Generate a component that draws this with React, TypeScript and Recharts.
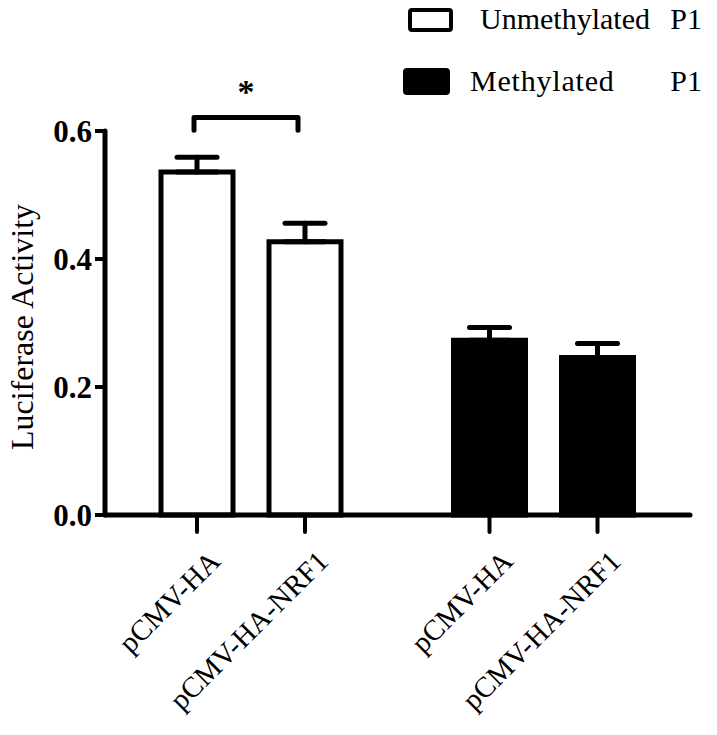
import { BarChart, Bar, XAxis, YAxis, ErrorBar, Cell, LabelList } from "recharts";

const FONT = '"Liberation Serif", "Times New Roman", serif';

// groups along the x axis, and the two constructs inside each group
const groups = ["Unmethylated", "Methylated"];
const groupSuffix = ["P1", "P1"];
const constructs = ["pCMV-HA", "pCMV-HA-NRF1"];
const haValues = [0.536, 0.273];
const nrf1Values = [0.427, 0.246];
const haErrors = [0.023, 0.02];
const nrf1Errors = [0.029, 0.022];
const groupFills = ["#ffffff", "#000000"];
const yTicks = [0, 0.2, 0.4, 0.6];

// significance bracket between the two unmethylated bars
const sigLevel = 0.621;
const sigLegLevel = 0.601;
const sigStarLevel = 0.665;

const BAR_SIZE = 72;
const BAR_GAP = 36;

const data = groups.map((g, i) => ({
  group: g,
  ha: haValues[i],
  nrf1: nrf1Values[i],
  haErr: [0, haErrors[i]],
  nrf1Err: [0, nrf1Errors[i]],
}));

// tick mark + rotated category label under each bar
const makeBarTick = (label: string) => (props: any) => {
  const { x, y, width, height } = props;
  const cx = x + width / 2;
  const bottom = y + height;
  const lx = cx + 25;
  const ly = bottom + 48;
  return (
    <g>
      <line x1={cx} y1={bottom} x2={cx} y2={bottom + 17} stroke="#000" strokeWidth={4} strokeLinecap="round" />
      <text
        x={lx}
        y={ly}
        transform={`rotate(-45, ${lx}, ${ly})`}
        textAnchor="end"
        fontFamily={FONT}
        fontSize={29}
        fill="#000"
      >
        {label}
      </text>
    </g>
  );
};

const renderSignificance = (props: any) => {
  const { x, y, width, height, value, index } = props;
  if (index !== 0) return null;
  const bottom = y + height;
  const pxPerUnit = height / value;
  const x1 = x + width / 2;
  const x2 = x1 + width + BAR_GAP;
  const yTop = bottom - sigLevel * pxPerUnit;
  const yLeg = bottom - sigLegLevel * pxPerUnit;
  const yStar = bottom - sigStarLevel * pxPerUnit;
  return (
    <g>
      <path
        d={`M${x1 - 3},${yLeg} L${x1 - 3},${yTop} L${x2 - 7},${yTop} L${x2 - 7},${yLeg}`}
        fill="none"
        stroke="#000"
        strokeWidth={5}
        strokeLinecap="round"
        strokeLinejoin="round"
      />
      <text
        x={(x1 + x2) / 2 - 5}
        y={yStar + 14}
        textAnchor="middle"
        fontFamily={FONT}
        fontSize={34}
        fontWeight="bold"
        fill="#000"
      >
        *
      </text>
    </g>
  );
};

function LegendBox() {
  return (
    <div style={{ position: "absolute", left: 0, top: 0, width: 717, height: 100, fontFamily: FONT, color: "#000" }}>
      {groups.map((g, i) => {
        const top = i === 0 ? 8 : 68;
        const boxLeft = i === 0 ? 408 : 403;
        const boxW = i === 0 ? 45 : 47;
        const boxH = i === 0 ? 24 : 27;
        return (
          <div key={g}>
            <div
              style={{
                position: "absolute",
                left: boxLeft,
                top,
                width: boxW,
                height: boxH,
                boxSizing: "border-box",
                background: groupFills[i],
                border: "4.5px solid #000",
                borderRadius: 4,
              }}
            />
            <span
              style={{
                position: "absolute",
                left: i === 0 ? 480 : 470,
                top: top + boxH / 2 - 19,
                fontSize: 30,
                lineHeight: "36px",
                letterSpacing: i === 0 ? 0 : 0.8,
                whiteSpace: "pre",
              }}
            >
              {g}
            </span>
            <span
              style={{
                position: "absolute",
                right: 15,
                top: top + boxH / 2 - 19,
                fontSize: 30,
                lineHeight: "36px",
              }}
            >
              {groupSuffix[i]}
            </span>
          </div>
        );
      })}
    </div>
  );
}

const renderYLabel = (props: any) => {
  const { viewBox } = props;
  const cx = 22;
  const cy = viewBox.y + viewBox.height / 2 + 4;
  return (
    <text
      x={cx}
      y={cy}
      transform={`rotate(-90, ${cx}, ${cy})`}
      textAnchor="middle"
      dominantBaseline="central"
      fontFamily={FONT}
      fontSize={32}
      fill="#000"
    >
      Luciferase Activity
    </text>
  );
};

export default function App() {
  return (
    <div style={{ position: "absolute", left: 0, top: 0, width: 717, height: 735, background: "#fff" }}>
      <BarChart
        width={717}
        height={735}
        data={data}
        margin={{ top: 131, right: 27, bottom: 190, left: 0 }}
        barGap={BAR_GAP}
        style={{ overflow: "visible" }}
      >
        <XAxis
          dataKey="group"
          height={30}
          tick={false}
          tickLine={false}
          axisLine={{ stroke: "#000", strokeWidth: 5, strokeLinecap: "round" }}
        />
        <YAxis
          width={105}
          domain={[0, 0.6]}
          ticks={yTicks}
          interval={0}
          tickFormatter={(v: number) => v.toFixed(1)}
          tick={{ fontSize: 31, fontWeight: "bold", fill: "#000", fontFamily: FONT }}
          tickSize={10}
          tickMargin={3}
          tickLine={{ stroke: "#000", strokeWidth: 4 }}
          axisLine={{ stroke: "#000", strokeWidth: 5, strokeLinecap: "round" }}
          label={renderYLabel}
        />
        <Bar dataKey="ha" barSize={BAR_SIZE} stroke="#000" strokeWidth={5} isAnimationActive={false}>
          {data.map((d, i) => (
            <Cell key={d.group} fill={groupFills[i]} />
          ))}
          <ErrorBar dataKey="haErr" width={20} stroke="#000" strokeWidth={5} strokeLinecap="round" />
          <LabelList dataKey="ha" content={makeBarTick(constructs[0])} />
          <LabelList dataKey="ha" content={renderSignificance} />
        </Bar>
        <Bar dataKey="nrf1" barSize={BAR_SIZE} stroke="#000" strokeWidth={5} isAnimationActive={false}>
          {data.map((d, i) => (
            <Cell key={d.group} fill={groupFills[i]} />
          ))}
          <ErrorBar dataKey="nrf1Err" width={20} stroke="#000" strokeWidth={5} strokeLinecap="round" />
          <LabelList dataKey="nrf1" content={makeBarTick(constructs[1])} />
        </Bar>
      </BarChart>
      <LegendBox />
    </div>
  );
}
